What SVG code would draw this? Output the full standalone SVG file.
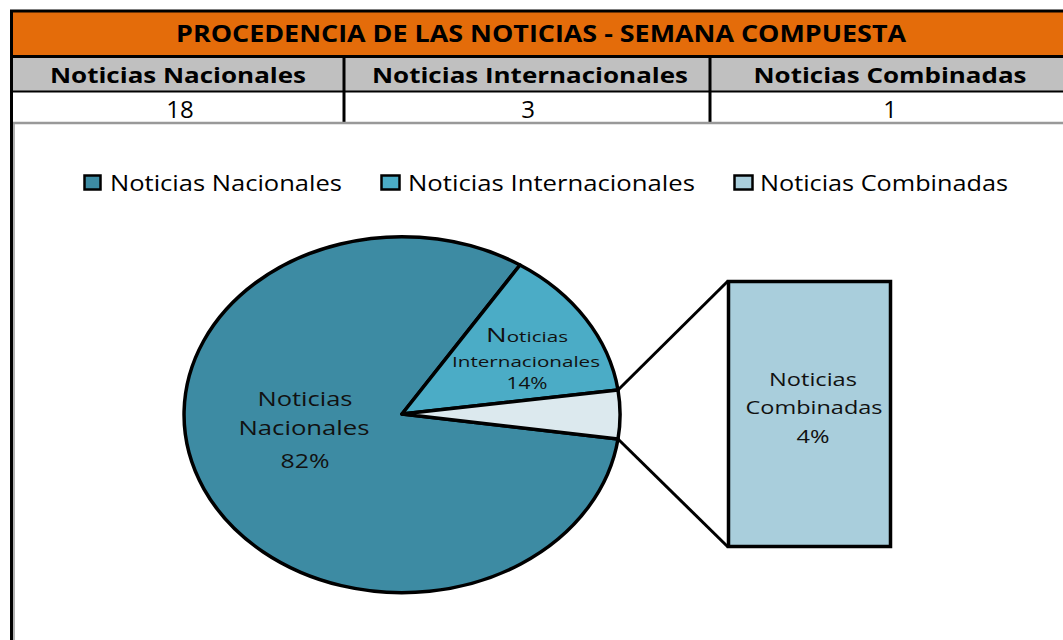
<svg xmlns="http://www.w3.org/2000/svg" width="1063" height="640" viewBox="0 0 1063 640">
<style>
.hdr{font-family:"Open Sans","Liberation Sans",Arial,sans-serif;font-weight:bold;fill:#000}
.cell{font-family:"Open Sans","Liberation Sans",sans-serif;fill:#000}
.lbl{font-family:"Open Sans","Liberation Sans",sans-serif;fill:#111;text-anchor:middle}
.slice{stroke:#000;stroke-width:3.5;stroke-linejoin:round}
.lg{stroke:#000;stroke-width:2.5}
.grid{stroke:#000;stroke-width:3}
</style>
<rect x="0" y="0" width="1063" height="640" fill="#fff"/>
<g id="table">
  <rect x="12" y="12" width="1060" height="44" fill="#E46C0A"/>
  <rect x="12" y="57" width="1060" height="34" fill="#C0C0C0"/>
  <rect x="12" y="92" width="1060" height="30" fill="#fff"/>
  <line class="grid" x1="10" y1="11" x2="1063" y2="11"/>
  <line class="grid" x1="10" y1="56.5" x2="1063" y2="56.5"/>
  <line x1="10" y1="91.5" x2="1063" y2="91.5" stroke="#000" stroke-width="2"/>
  <line class="grid" x1="344" y1="56" x2="344" y2="122"/>
  <line class="grid" x1="710" y1="56" x2="710" y2="122"/>
  <line x1="13" y1="123" x2="1063" y2="123" stroke="#999" stroke-width="2.5"/>
  <line x1="11.5" y1="10" x2="11.5" y2="640" stroke="#000" stroke-width="3"/>
  <line x1="14" y1="123" x2="14" y2="640" stroke="#999" stroke-width="1.5"/>
  <text class="hdr" x="541" y="42" font-size="23" text-anchor="middle" textLength="730" lengthAdjust="spacingAndGlyphs">PROCEDENCIA DE LAS NOTICIAS - SEMANA COMPUESTA</text>
  <text class="hdr" x="178" y="83" font-size="21" text-anchor="middle" textLength="256" lengthAdjust="spacingAndGlyphs">Noticias Nacionales</text>
  <text class="hdr" x="530" y="83" font-size="21" text-anchor="middle" textLength="316" lengthAdjust="spacingAndGlyphs">Noticias Internacionales</text>
  <text class="hdr" x="890" y="83" font-size="21" text-anchor="middle" textLength="273" lengthAdjust="spacingAndGlyphs">Noticias Combinadas</text>
  <text class="cell" x="180" y="118" font-size="24" text-anchor="middle">18</text>
  <text class="cell" x="528" y="118" font-size="24" text-anchor="middle">3</text>
  <text class="cell" x="890" y="118" font-size="24" text-anchor="middle">1</text>
</g>
<g id="legend">
  <rect class="lg" x="84.5" y="175.5" width="16" height="14" fill="#3D8BA3"/>
  <text class="cell" x="110" y="191" font-size="21" textLength="232" lengthAdjust="spacingAndGlyphs">Noticias Nacionales</text>
  <rect class="lg" x="381.5" y="175.5" width="18" height="14" fill="#4BACC6"/>
  <text class="cell" x="408" y="191" font-size="21" textLength="287" lengthAdjust="spacingAndGlyphs">Noticias Internacionales</text>
  <rect class="lg" x="734.5" y="175.5" width="18" height="14" fill="#A9CEDC"/>
  <text class="cell" x="760" y="191" font-size="21" textLength="248" lengthAdjust="spacingAndGlyphs">Noticias Combinadas</text>
</g>
<g id="connectors">
  <line x1="618" y1="390" x2="728" y2="281" stroke="#000" stroke-width="3"/>
  <line x1="618" y1="439" x2="728" y2="547" stroke="#000" stroke-width="3"/>
</g>
<g id="slice-nacionales">
  <path class="slice" d="M402,414 L618,439 A218,178 0 1 1 520,265 Z" fill="#3D8BA3"/>
  <text class="lbl" x="305" y="406" font-size="20" textLength="95" lengthAdjust="spacingAndGlyphs">Noticias</text>
  <text class="lbl" x="304" y="435" font-size="20" textLength="131" lengthAdjust="spacingAndGlyphs">Nacionales</text>
  <text class="lbl" x="305" y="468" font-size="20" textLength="49" lengthAdjust="spacingAndGlyphs">82%</text>
</g>
<g id="slice-internacionales">
  <path class="slice" d="M402,414 L520,265 A218,178 0 0 1 618,390 Z" fill="#4BACC6"/>
  <text class="lbl" x="527" y="342" font-size="15" textLength="82" lengthAdjust="spacingAndGlyphs"><tspan font-size="20">N</tspan>oticias</text>
  <text class="lbl" x="526" y="367" font-size="15" textLength="148" lengthAdjust="spacingAndGlyphs">Internacionales</text>
  <text class="lbl" x="527" y="389" font-size="16" textLength="41" lengthAdjust="spacingAndGlyphs">14%</text>
</g>
<g id="slice-combinadas">
  <path class="slice" d="M402,414 L618,390 A218,178 0 0 1 618,439 Z" fill="#DCE9EE"/>
</g>
<g id="box-combinadas">
  <rect x="728.5" y="281.5" width="162" height="265" fill="#A9CEDC" stroke="#000" stroke-width="3.5"/>
  <text class="lbl" x="813" y="386" font-size="19" textLength="88" lengthAdjust="spacingAndGlyphs">Noticias</text>
  <text class="lbl" x="814" y="414" font-size="19" textLength="137" lengthAdjust="spacingAndGlyphs">Combinadas</text>
  <text class="lbl" x="813" y="443" font-size="19" textLength="33" lengthAdjust="spacingAndGlyphs">4%</text>
</g>
</svg>
